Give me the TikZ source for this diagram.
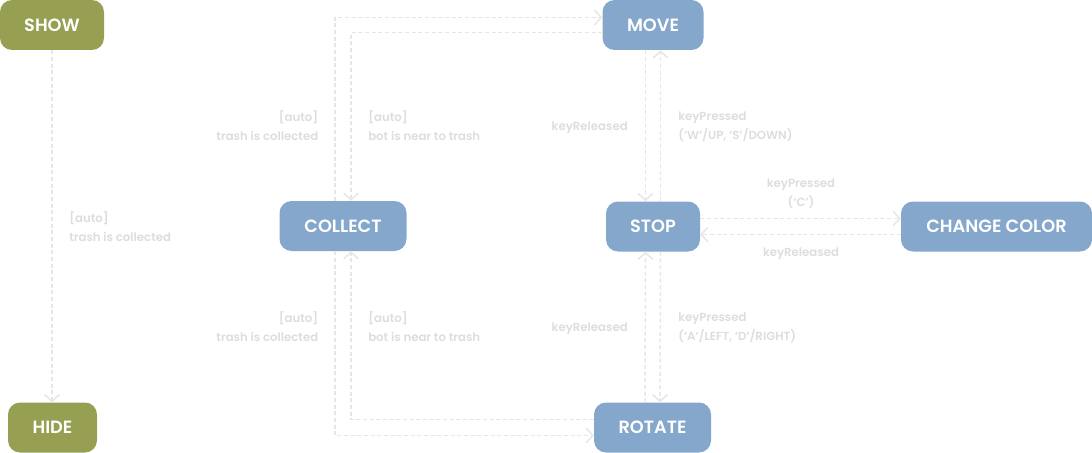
\documentclass[tikz,border=0pt]{standalone}
\usepackage{fontspec}
\setmainfont{Poppins}
\newfontfamily\semib{Poppins SemiBold}
\usetikzlibrary{arrows.meta,calc}
\definecolor{blu}{HTML}{84A7CB}
\definecolor{oli}{HTML}{979F52}
\definecolor{ln}{HTML}{E6E6E6}
\definecolor{lbl}{HTML}{DDDDDD}
\begin{document}
\begin{tikzpicture}[x=0.75pt,y=-0.75pt,
 st/.style={rounded corners=9pt, inner sep=0pt, minimum height=37.5pt, text=white, font=\semib\fontsize{13.3}{15}\selectfont},
 bst/.style={st, fill=blu}, gst/.style={st, fill=oli},
 tr/.style={draw=ln, line width=1.1pt, dash pattern=on 3pt off 2pt, -{Straight Barb[length=5pt,width=11pt]}},
 lb/.style={text=lbl, font=\semib\fontsize{8.8}{14.25}\selectfont, inner sep=0pt}]
\useasboundingbox (0,0) rectangle (1092,453);
% states
\node[gst, minimum width=78pt] (SHOW) at (52,25) {SHOW};
\node[gst, minimum width=66.75pt] (HIDE) at (52.5,427.5) {HIDE};
\node[bst, minimum width=75.75pt] (MOVE) at (653,25) {MOVE};
\node[bst, minimum width=95.25pt] (COLLECT) at (343,226) {COLLECT};
\node[bst, minimum width=70.5pt] (STOP) at (653,226.5) {STOP};
\node[bst, minimum width=143.25pt] (CC) at (996.5,226.5) {CHANGE COLOR};
\node[bst, minimum width=87.75pt] (ROTATE) at (652.5,427.5) {ROTATE};
% transitions
\draw[tr] (SHOW.south) -- (SHOW.south |- HIDE.north);
\draw[tr] ($(COLLECT.north)+(-8,0)$) |- ($(MOVE.west)+(0,-7.5)$);
\draw[tr] ($(MOVE.west)+(0,7.5)$) -| ($(COLLECT.north)+(8,0)$);
\draw[tr] ($(COLLECT.south)+(-8,0)$) |- ($(ROTATE.west)+(0,8)$);
\draw[tr] ($(ROTATE.west)+(0,-8)$) -| ($(COLLECT.south)+(8,0)$);
\draw[tr] ($(MOVE.south)+(-7.5,0)$) -- ($(STOP.north)+(-7.5,0)$);
\draw[tr] ($(STOP.north)+(7.5,0)$) -- ($(MOVE.south)+(7.5,0)$);
\draw[tr] ($(ROTATE.north)+(-7.5,0)$) -- ($(STOP.south)+(-7.5,0)$);
\draw[tr] ($(STOP.south)+(7.5,0)$) -- ($(ROTATE.north)+(7.5,0)$);
\draw[tr] ($(STOP.east)+(0,-8)$) -- ($(CC.west)+(0,-8)$);
\draw[tr] ($(CC.west)+(0,8)$) -- ($(STOP.east)+(0,8)$);
% labels
\node[lb, anchor=west, align=left] (l1) at (69,226.5) {[auto]\\trash is collected};
\node[lb, anchor=east, align=right] (l2) at (318.5,126) {[auto]\\trash is collected};
\node[lb, anchor=west, align=left] (l3) at (368,126) {[auto]\\bot is near to trash};
\node[lb, anchor=east] (l4) at (628,127.5) {keyReleased};
\node[lb, anchor=west, align=left] (l5) at (678,126.5) {keyPressed\\(‘W’/UP, ‘S’/DOWN)};
\node[lb, anchor=east, align=right] (l6) at (318.5,327) {[auto]\\trash is collected};
\node[lb, anchor=west, align=left] (l7) at (368,327) {[auto]\\bot is near to trash};
\node[lb, anchor=east] (l8) at (628,328.5) {keyReleased};
\node[lb, anchor=west, align=left] (l9) at (678,327.5) {keyPressed\\(‘A’/LEFT, ‘D’/RIGHT)};
\node[lb, align=center] (l10) at (801,193.5) {keyPressed\\(‘C’)};
\node[lb] (l11) at (801,253.5) {keyReleased};
\end{tikzpicture}
\end{document}
